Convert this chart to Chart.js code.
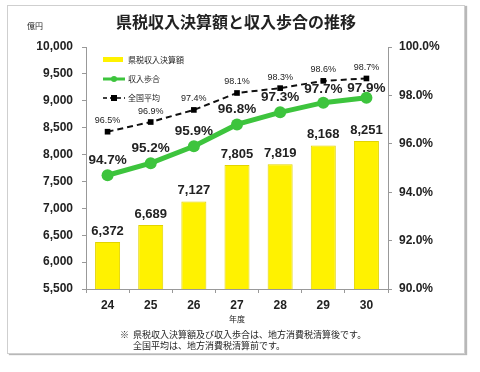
<!DOCTYPE html>
<html>
<head>
<meta charset="utf-8">
<script src="https://cdn.jsdelivr.net/npm/chart.js@4.4.1/dist/chart.umd.min.js"></script>
<style>
  body { margin: 0; background: #fff; font-family: "Noto Sans CJK JP", sans-serif; }
  #wrap { position: relative; width: 480px; height: 372px; overflow: hidden; }
  #frame { position: absolute; left: 7px; top: 5px; width: 456px; height: 347px;
           border: 1px solid #cfcfcf; box-shadow: 2px 1px 1px #b8b8b8; }
  canvas { position: absolute; left: 0; top: 0; }
  .txt { position: absolute; white-space: nowrap; color: #222; line-height: 1; }
  #title { left: 0; width: 472px; top: 13px; text-align: center; font-size: 16px; font-weight: bold; }
  #unit { left: 27px; top: 22px; font-size: 8px; }
  #note1 { left: 120px; top: 330px; font-size: 9px; }
  #note2 { left: 133px; top: 341px; font-size: 9px; }
</style>
</head>
<body>
<div id="wrap">
  <div id="frame"></div>
  <canvas id="chart" width="480" height="372"></canvas>
  <div class="txt" id="title">県税収入決算額と収入歩合の推移</div>
  <div class="txt" id="unit">億円</div>
  <div class="txt" id="note1">※&nbsp;&nbsp;県税収入決算額及び収入歩合は、地方消費税清算後です。</div>
  <div class="txt" id="note2">全国平均は、地方消費税清算前です。</div>
</div>
<script>
// data
const years = ['24', '25', '26', '27', '28', '29', '30'];
const revenue = [6372, 6689, 7127, 7805, 7819, 8168, 8251];   // 億円
const collectionRate = [94.7, 95.2, 95.9, 96.8, 97.3, 97.7, 97.9];
const nationalAvg = [96.5, 96.9, 97.4, 98.1, 98.3, 98.6, 98.7];

const YELLOW = '#FFF200';
const GREEN = '#3DC43D';
const TEXT = '#222';
const AXIS = '#999';
const NUM_FONT = '"Liberation Sans", Arial, sans-serif';
const JP_FONT = '"Noto Sans CJK JP", sans-serif';

// the last green labels sit a bit lower, tucked under the dashed line
const greenLift = [15, 15, 15, 15, 15, 13, 10];

// value labels above bars and points + legend inside the plot
const labelsPlugin = {
  id: 'labels',
  afterDatasetsDraw(chart) {
    const ctx = chart.ctx;
    ctx.save();
    ctx.textAlign = 'center';
    ctx.textBaseline = 'middle';
    ctx.fillStyle = TEXT;

    chart.getDatasetMeta(0).data.forEach((bar, i) => {
      ctx.font = 'bold 13px ' + NUM_FONT;
      ctx.fillText(revenue[i].toLocaleString('en-US'), bar.x, bar.y - 11);
    });
    chart.getDatasetMeta(1).data.forEach((pt, i) => {
      ctx.font = 'bold 13.5px ' + NUM_FONT;
      ctx.fillText(collectionRate[i].toFixed(1) + '%', pt.x, pt.y - greenLift[i]);
    });
    chart.getDatasetMeta(2).data.forEach((pt, i) => {
      ctx.font = '9px ' + NUM_FONT;
      ctx.fillText(nationalAvg[i].toFixed(1) + '%', pt.x, pt.y - 11);
    });

    // legend
    const lx = 103, tx = 128;
    ctx.textAlign = 'left';
    ctx.font = '8px ' + JP_FONT;

    ctx.fillStyle = YELLOW;
    ctx.fillRect(lx, 57, 20, 5);
    ctx.fillStyle = TEXT;
    ctx.fillText('県税収入決算額', tx, 60);

    ctx.strokeStyle = GREEN;
    ctx.lineWidth = 3;
    ctx.beginPath(); ctx.moveTo(lx, 79); ctx.lineTo(lx + 22, 79); ctx.stroke();
    ctx.fillStyle = GREEN;
    ctx.beginPath(); ctx.arc(lx + 11, 79, 3, 0, Math.PI * 2); ctx.fill();
    ctx.fillStyle = TEXT;
    ctx.fillText('収入歩合', tx, 79);

    ctx.strokeStyle = '#000';
    ctx.lineWidth = 1.5;
    ctx.setLineDash([4, 3]);
    ctx.beginPath(); ctx.moveTo(lx, 98); ctx.lineTo(lx + 22, 98); ctx.stroke();
    ctx.setLineDash([]);
    ctx.fillStyle = '#000';
    ctx.fillRect(lx + 8, 95, 6, 6);
    ctx.fillStyle = TEXT;
    ctx.fillText('全国平均', tx, 98);
    ctx.restore();
  }
};

new Chart(document.getElementById('chart'), {
  data: {
    labels: years,
    datasets: [
      {
        type: 'bar',
        label: '県税収入決算額',
        data: revenue,
        yAxisID: 'y',
        backgroundColor: YELLOW,
        borderColor: '#E2D400',
        borderWidth: 1,
        categoryPercentage: 1,
        barPercentage: 0.58,
        order: 3
      },
      {
        type: 'line',
        label: '収入歩合',
        data: collectionRate,
        yAxisID: 'y1',
        borderColor: GREEN,
        backgroundColor: GREEN,
        borderWidth: 5,
        pointRadius: 6,
        pointBackgroundColor: GREEN,
        pointBorderWidth: 0,
        tension: 0,
        order: 2
      },
      {
        type: 'line',
        label: '全国平均',
        data: nationalAvg,
        yAxisID: 'y1',
        borderColor: '#111',
        borderWidth: 2,
        borderDash: [6, 4],
        pointStyle: 'rect',
        pointRadius: 4,
        pointBackgroundColor: '#000',
        pointBorderWidth: 0,
        tension: 0,
        order: 1
      }
    ]
  },
  options: {
    responsive: false,
    animation: false,
    layout: { padding: { top: 47, left: 0, right: 0, bottom: 0 } },
    plugins: {
      legend: { display: false },
      tooltip: { enabled: false }
    },
    scales: {
      x: {
        grid: { offset: true, drawOnChartArea: false, tickLength: 4, color: AXIS },
        border: { color: AXIS },
        ticks: { color: TEXT, font: { family: NUM_FONT, size: 12, weight: 'bold' }, padding: 5 },
        title: {
          display: true,
          text: '年度',
          color: TEXT,
          font: { family: JP_FONT, size: 8 },
          padding: { top: 0, bottom: 48 }
        },
        afterFit: s => { s.height = 83; }
      },
      y: {
        position: 'left',
        min: 5500,
        max: 10000,
        ticks: {
          stepSize: 500,
          color: TEXT,
          padding: 9,
          font: { family: NUM_FONT, size: 12, weight: 'bold' },
          callback: v => v.toLocaleString('en-US')
        },
        grid: { drawOnChartArea: false, tickLength: 4, color: AXIS },
        border: { color: AXIS },
        afterFit: s => { s.width = 86; }
      },
      y1: {
        position: 'right',
        min: 90,
        max: 100,
        ticks: {
          stepSize: 2,
          color: TEXT,
          padding: 7,
          font: { family: NUM_FONT, size: 12, weight: 'bold' },
          callback: v => v.toFixed(1) + '%'
        },
        grid: { drawOnChartArea: false, tickLength: 4, color: AXIS },
        border: { color: AXIS },
        afterFit: s => { s.width = 92; }
      }
    }
  },
  plugins: [labelsPlugin]
});
</script>
</body>
</html>
